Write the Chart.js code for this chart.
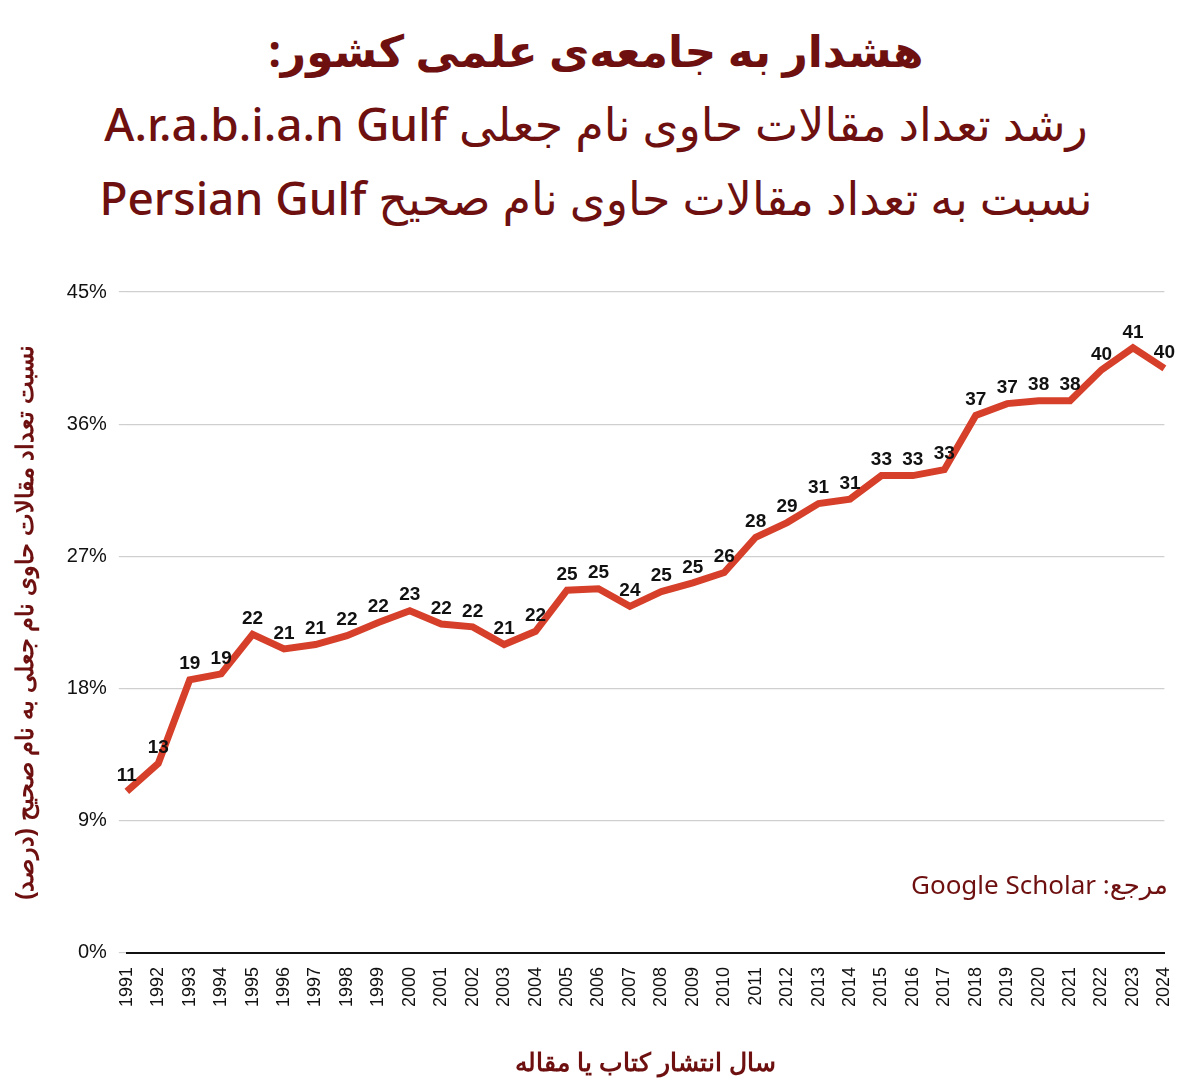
<!DOCTYPE html>
<html>
<head>
<meta charset="utf-8">
<script src="https://cdn.jsdelivr.net/npm/chart.js@4"></script>
<style>
  body { margin:0; width:1192px; height:1083px; background:#fff; font-family:"Noto Sans","DejaVu Sans",sans-serif; position:relative; overflow:hidden; }
  .t { position:absolute; left:0; width:1192px; text-align:center; color:#6e1010; direction:rtl; }
  #t1 { top:20px; font-size:44px; font-weight:bold; }
  #t2 { top:92px; font-size:46px; font-weight:500; }
  #t3 { top:166px; font-size:46px; font-weight:500; }
  #wrap { position:absolute; left:0; top:262px; width:1192px; height:821px; }
  #src { position:absolute; right:24px; top:866px; font-size:26px; color:#6e1010; direction:rtl; }
</style>
</head>
<body>
<div class="t" id="t1">هشدار به جامعه‌ی علمی کشور:</div>
<div class="t" id="t2">رشد تعداد مقالات حاوی نام جعلی A.r.a.b.i.a.n Gulf</div>
<div class="t" id="t3">نسبت به تعداد مقالات حاوی نام صحیح Persian Gulf</div>
<div id="wrap"><canvas id="c"></canvas></div>
<div id="src">مرجع: Google Scholar</div>
<script>
// سال‌ها و مقادیر (درصد)
const years = [];
for (let y = 1991; y <= 2024; y++) years.push(String(y));
const values = [11.0, 12.9, 18.6, 19.0, 21.7, 20.7, 21.0, 21.6, 22.5, 23.3, 22.4, 22.2, 21.0, 21.9,
  24.7, 24.8, 23.6, 24.6, 25.2, 25.9, 28.3, 29.3, 30.6, 30.9, 32.5, 32.5, 32.9, 36.6, 37.4, 37.6,
  37.6, 39.7, 41.2, 39.8];
const labels = [11, 13, 19, 19, 22, 21, 21, 22, 22, 23, 22, 22, 21, 22, 25, 25, 24, 25, 25, 26,
  28, 29, 31, 31, 33, 33, 33, 37, 37, 38, 38, 40, 41, 40];

// برچسب‌های روی نقاط
const pointLabels = {
  id: 'pointLabels',
  afterDatasetsDraw(chart) {
    const ctx = chart.ctx;
    const meta = chart.getDatasetMeta(0);
    ctx.save();
    ctx.font = 'bold 19px "Liberation Sans", Arial, sans-serif';
    ctx.fillStyle = '#111';
    ctx.textAlign = 'center';
    ctx.textBaseline = 'bottom';
    meta.data.forEach((p, i) => ctx.fillText(labels[i], p.x, p.y - 6));
    ctx.restore();
  }
};

new Chart(document.getElementById('c'), {
  type: 'line',
  data: {
    labels: years,
    datasets: [{
      data: values,
      borderColor: '#d6402a',
      borderWidth: 7,
      pointRadius: 0,
      tension: 0,
      fill: false
    }]
  },
  options: {
    responsive: true,
    maintainAspectRatio: false,
    animation: false,
    layout: { padding: { right: 26, top: 30, left: 8 } },
    plugins: { legend: { display: false }, tooltip: { enabled: false } },
    scales: {
      x: {
        grid: { display: false },
        border: { color: '#111', width: 2 },
        ticks: { color: '#111', font: { size: 18 }, minRotation: 90, maxRotation: 90, autoSkip: false, padding: 6 },
        title: { display: true, text: 'سال انتشار کتاب یا مقاله', color: '#6e1010',
                 font: { size: 25, weight: 'bold' }, padding: { top: 36 } }
      },
      y: {
        min: 0, max: 45,
        ticks: { stepSize: 9, color: '#111', font: { size: 20 }, padding: 12, callback: v => v + '%' },
        grid: { color: '#cfcfcf', lineWidth: 1.2 },
        border: { display: false },
        title: { display: true, text: 'نسبت تعداد مقالات حاوی نام جعلی به نام صحیح (درصد)',
                 color: '#6e1010', font: { size: 24, weight: 'bold' }, padding: { bottom: 14 } }
      }
    }
  },
  plugins: [pointLabels]
});
</script>
</body>
</html>
